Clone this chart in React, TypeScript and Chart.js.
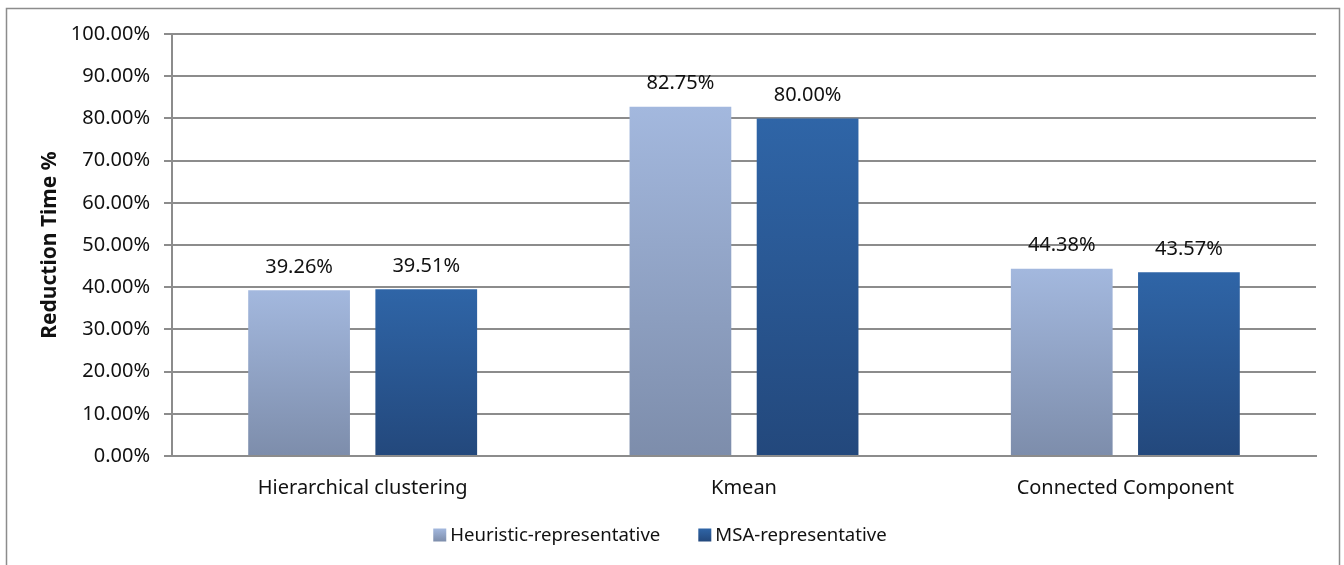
import React, { useEffect, useRef } from "react";
import { Chart, registerables } from "chart.js";

Chart.register(...registerables);

const categories = ["Hierarchical clustering", "Kmean", "Connected Component"];
const heuristicValues = [39.26, 82.75, 44.38];
const msaValues = [39.51, 80.0, 43.57];
const seriesNames = ["Heuristic-representative", "MSA-representative"];
const yTicks = [0, 10, 20, 30, 40, 50, 60, 70, 80, 90, 100];
const yTitle = "Reduction Time %";

const FONT = "'Noto Sans', 'Open Sans', sans-serif";
const lightTop = "#a3b8de";
const lightBottom = "#7d8dab";
const darkTop = "#2f65a7";
const darkBottom = "#23487c";

function gradFill(top: string, bottom: string) {
  return (ctx: any) => {
    const chart = ctx.chart;
    const area = chart.chartArea;
    const ys = chart.scales && chart.scales.y;
    if (!area || !ys || !ctx.parsed) return top;
    const yTop = ys.getPixelForValue(ctx.parsed.y);
    const yBase = ys.getPixelForValue(0);
    if (!isFinite(yTop) || !isFinite(yBase) || yTop === yBase) return top;
    const g = chart.ctx.createLinearGradient(0, yTop, 0, yBase);
    g.addColorStop(0, top);
    g.addColorStop(1, bottom);
    return g;
  };
}

const framePlugin = {
  id: "frame",
  beforeDraw(chart: any) {
    const c = chart.ctx;
    c.save();
    c.fillStyle = "#ffffff";
    c.fillRect(0, 0, chart.width, chart.height);
    c.strokeStyle = "#8c8c8c";
    c.lineWidth = 1.5;
    c.strokeRect(6.5, 8.5, 1333, 620);
    c.restore();
  },
  afterDraw(chart: any) {
    const c = chart.ctx;
    const area = chart.chartArea;
    c.save();
    // data labels
    c.font = `20px ${FONT}`;
    c.fillStyle = "#111111";
    c.textAlign = "center";
    c.textBaseline = "middle";
    chart.data.datasets.forEach((ds: any, di: number) => {
      const meta = chart.getDatasetMeta(di);
      meta.data.forEach((bar: any, i: number) => {
        const v = ds.data[i];
        c.fillText(v.toFixed(2) + "%", bar.x, bar.y - 23);
      });
    });
    // y title
    c.save();
    c.translate(50, (area.top + area.bottom) / 2);
    c.rotate(-Math.PI / 2);
    c.font = `bold 21px ${FONT}`;
    c.fillStyle = "#111111";
    c.fillText(yTitle, 0, 0);
    c.restore();
    // legend
    c.font = `18.6px ${FONT}`;
    c.textAlign = "left";
    const boxes = [lightTop, darkTop];
    const boxesB = [lightBottom, darkBottom];
    const gapBoxText = 4;
    const gapItems = 38;
    const box = 13;
    const widths = seriesNames.map((n) => box + gapBoxText + c.measureText(n).width);
    const total = widths[0] + widths[1] + gapItems;
    let x = 660 - total / 2;
    const yc = 535;
    seriesNames.forEach((n, i) => {
      const g = c.createLinearGradient(0, yc - box / 2, 0, yc + box / 2);
      g.addColorStop(0, boxes[i]);
      g.addColorStop(1, boxesB[i]);
      c.fillStyle = g;
      c.fillRect(x, yc - box / 2, box, box);
      c.fillStyle = "#111111";
      c.fillText(n, x + box + gapBoxText, yc + 1);
      x += widths[i] + gapItems;
    });
    c.restore();
  },
};

export default function App() {
  const ref = useRef<HTMLCanvasElement | null>(null);
  useEffect(() => {
    if (!ref.current) return;
    const chart = new Chart(ref.current, {
      type: "bar",
      data: {
        labels: categories,
        datasets: [
          {
            label: seriesNames[0],
            data: heuristicValues,
            backgroundColor: gradFill(lightTop, lightBottom),
            categoryPercentage: 0.667,
            barPercentage: 0.8,
          },
          {
            label: seriesNames[1],
            data: msaValues,
            backgroundColor: gradFill(darkTop, darkBottom),
            categoryPercentage: 0.667,
            barPercentage: 0.8,
          },
        ],
      },
      options: {
        animation: false,
        responsive: false,
        maintainAspectRatio: false,
        layout: { padding: { left: 0, right: 28, top: 34, bottom: 58 } },
        plugins: {
          legend: { display: false },
          tooltip: { enabled: false },
        },
        scales: {
          x: {
            grid: { display: false, drawTicks: false },
            border: { display: true, color: "#8c8c8c", width: 2 },
            ticks: {
              color: "#111111",
              font: { family: FONT, size: 20 },
              padding: 20,
              maxRotation: 0,
            },
            afterFit: (s: any) => {
              s.height = 51;
            },
          },
          y: {
            min: 0,
            max: 100,
            afterBuildTicks: (s: any) => {
              s.ticks = yTicks.map((v) => ({ value: v }));
            },
            grid: {
              color: "#8c8c8c",
              lineWidth: 2,
              tickLength: 8,
            },
            border: { display: true, color: "#8c8c8c", width: 2 },
            ticks: {
              color: "#111111",
              font: { family: FONT, size: 20 },
              padding: 14,
              callback: (v: any) => Number(v).toFixed(2) + "%",
            },
            afterFit: (s: any) => {
              s.width = 172;
            },
          },
        },
      },
      plugins: [framePlugin],
    });
    return () => chart.destroy();
  }, []);
  return (
    <div style={{ position: "fixed", left: 0, top: 0, width: 1344, height: 565 }}>
      <canvas ref={ref} width={1344} height={565} style={{ display: "block" }} />
    </div>
  );
}
